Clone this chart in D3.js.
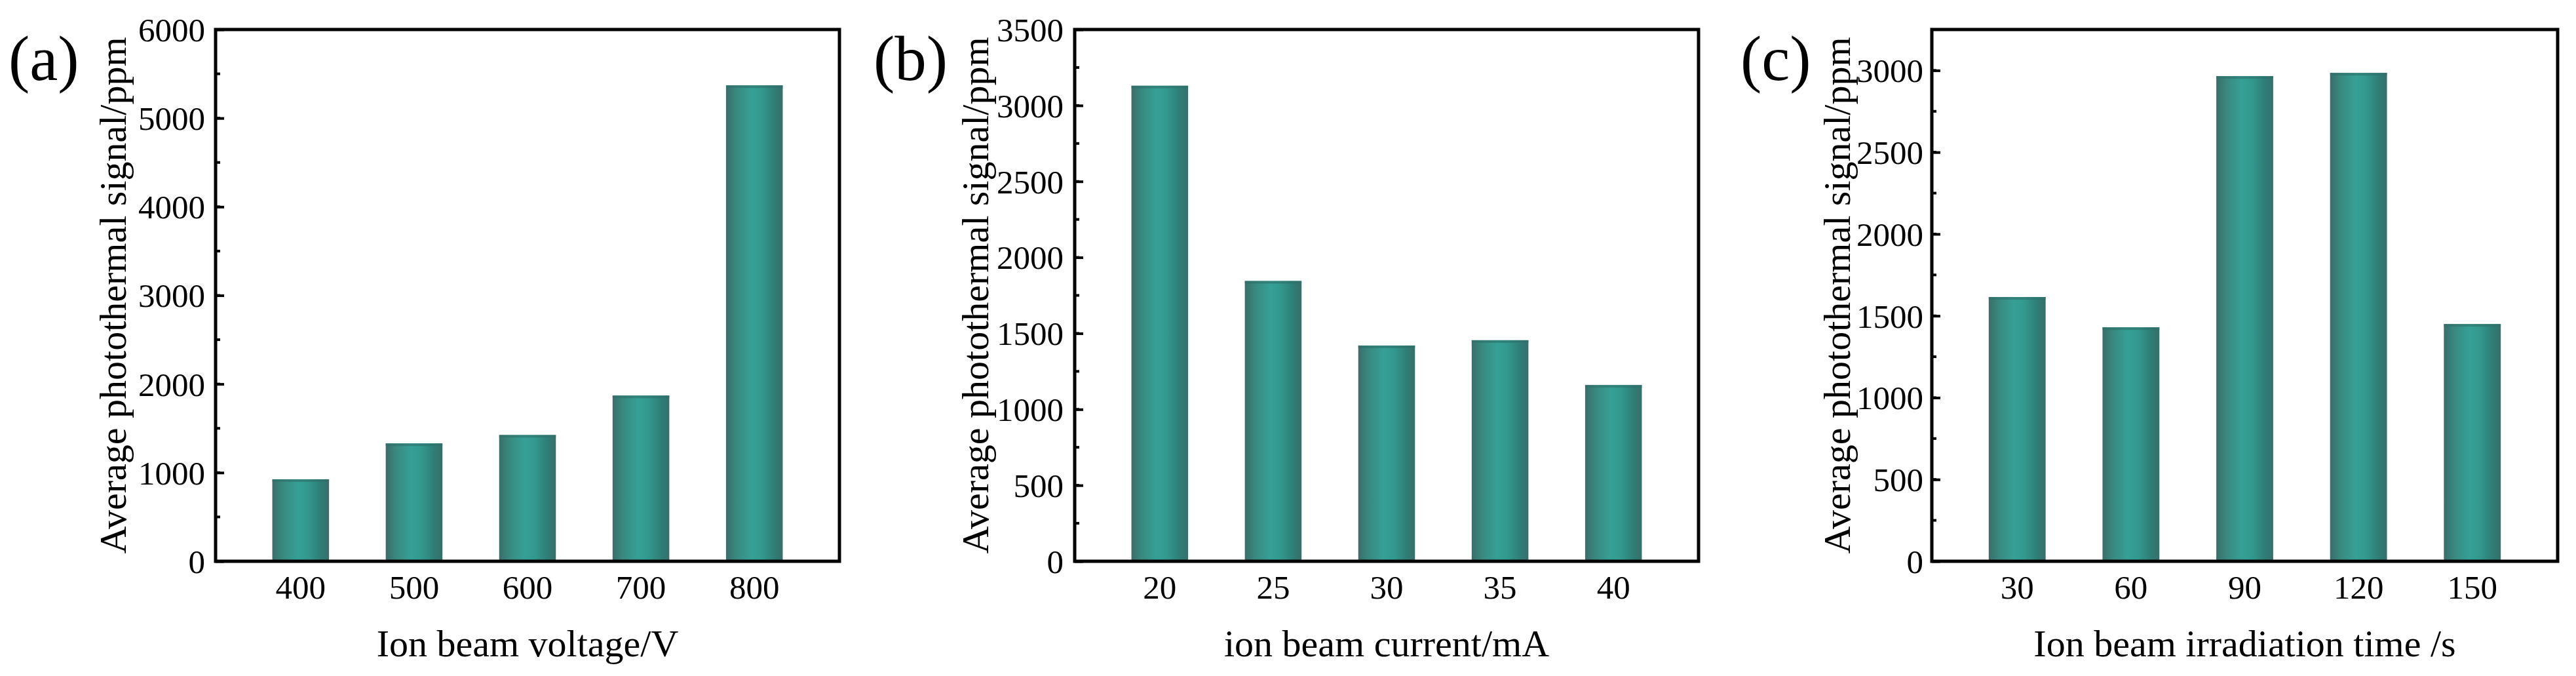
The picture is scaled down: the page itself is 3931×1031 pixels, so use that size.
<!DOCTYPE html>
<html>
<head>
<meta charset="utf-8">
<script src="https://cdn.jsdelivr.net/npm/d3@7"></script>
<style>
  body { margin: 0; background: #ffffff; }
  svg text { font-family: "Liberation Serif", "Times New Roman", serif; fill: #000; }
</style>
</head>
<body>
<div id="chart"></div>
<script>
// Chart data
var voltageCats = ["400", "500", "600", "700", "800"];
var voltageVals = [925, 1330, 1425, 1870, 5370];

var currentCats = ["20", "25", "30", "35", "40"];
var currentVals = [3130, 1845, 1420, 1455, 1160];

var timeCats = ["30", "60", "90", "120", "150"];
var timeVals = [1615, 1430, 2965, 2985, 1450];

// y axis tick labels
var voltageTicks = [0, 1000, 2000, 3000, 4000, 5000, 6000];
var currentTicks = [0, 500, 1000, 1500, 2000, 2500, 3000, 3500];
var timeTicks = [0, 500, 1000, 1500, 2000, 2500, 3000];

// SVG area dimensions
var svgWidth = 3931;
var svgHeight = 1031;

var svg = d3.select("#chart")
  .append("svg")
  .attr("width", svgWidth)
  .attr("height", svgHeight);

// Cylinder-like shading on the bars
var grad = svg.append("defs").append("linearGradient")
  .attr("id", "barGrad")
  .attr("x1", "0%").attr("x2", "100%")
  .attr("y1", "0%").attr("y2", "0%");
[["0%", "#3a6e6a"], ["18%", "#38897f"], ["45%", "#36a096"], ["62%", "#33998f"], ["85%", "#2e7e76"], ["100%", "#3a6d6a"]]
  .forEach(function(s) {
    grad.append("stop").attr("offset", s[0]).attr("stop-color", s[1]);
  });

// plot area top / bottom, shared by the three panels
var plotTop = 45;
var plotBottom = 856;

var serif = "'Liberation Serif', 'Times New Roman', serif";

function drawPanel(opt) {
  var g = svg.append("g");

  var xScale = d3.scaleBand()
    .domain(opt.cats)
    .range([opt.left, opt.right])
    .padding(0.5);

  var yScale = d3.scaleLinear()
    .domain([0, opt.yMax])
    .range([plotBottom, plotTop]);

  // bars
  g.selectAll(".bar")
    .data(opt.vals)
    .enter()
    .append("rect")
    .attr("class", "bar")
    .attr("x", (d, i) => xScale(opt.cats[i]))
    .attr("y", d => yScale(d))
    .attr("width", xScale.bandwidth())
    .attr("height", d => plotBottom - yScale(d))
    .attr("fill", "url(#barGrad)");

  // darker cap at the top of each bar
  g.selectAll(".cap")
    .data(opt.vals)
    .enter()
    .append("rect")
    .attr("class", "cap")
    .attr("x", (d, i) => xScale(opt.cats[i]))
    .attr("y", d => yScale(d))
    .attr("width", xScale.bandwidth())
    .attr("height", 4)
    .attr("fill", "#2f6f6a")
    .attr("opacity", 0.6);

  // minor ticks
  var minor = d3.range(0, opt.yMax + 1, opt.minorStep);
  g.selectAll(".minor")
    .data(minor)
    .enter()
    .append("line")
    .attr("class", "minor")
    .attr("x1", opt.left)
    .attr("x2", opt.left + 7)
    .attr("y1", d => yScale(d))
    .attr("y2", d => yScale(d))
    .attr("stroke", "#000")
    .attr("stroke-width", 4);

  // left axis with inward ticks
  var leftAxis = d3.axisLeft(yScale)
    .tickValues(opt.ticks)
    .tickFormat(d3.format("d"))
    .tickSize(-13);

  var yAxis = g.append("g")
    .attr("transform", `translate(${opt.left}, 0)`)
    .call(leftAxis)
    .attr("font-family", serif);
  yAxis.select(".domain").remove();
  yAxis.selectAll(".tick line").attr("stroke", "#000").attr("stroke-width", 4);
  yAxis.selectAll(".tick text")
    .attr("x", -opt.tickGap)
    .style("font-family", serif)
    .style("font-size", "51px")
    .attr("dy", "0.34em");

  // bottom axis labels, no ticks
  var bottomAxis = d3.axisBottom(xScale).tickSize(0);
  var xAxis = g.append("g")
    .attr("transform", `translate(0, ${plotBottom})`)
    .call(bottomAxis)
    .attr("font-family", serif);
  xAxis.select(".domain").remove();
  xAxis.selectAll(".tick text")
    .style("font-family", serif)
    .style("font-size", "51px")
    .attr("dy", "0")
    .attr("y", 57);

  // frame
  g.append("rect")
    .attr("x", opt.left)
    .attr("y", plotTop)
    .attr("width", opt.right - opt.left)
    .attr("height", plotBottom - plotTop)
    .attr("fill", "none")
    .attr("stroke", "#000")
    .attr("stroke-width", 5);

  // axis titles
  g.append("text")
    .attr("x", (opt.left + opt.right) / 2)
    .attr("y", 1001)
    .style("text-anchor", "middle")
    .style("font-size", "58px")
    .text(opt.xTitle);

  g.append("text")
    .attr("transform", `translate(${opt.left - opt.yTitleOffset}, ${(plotTop + plotBottom) / 2}) rotate(-90)`)
    .style("text-anchor", "middle")
    .style("font-size", "58px")
    .text("Average photothermal signal/ppm");

  // panel letter
  g.append("text")
    .attr("x", opt.letterX)
    .attr("y", 122)
    .style("font-size", "97px")
    .text(opt.letter);
}

drawPanel({
  cats: voltageCats, vals: voltageVals, ticks: voltageTicks,
  yMax: 6000, minorStep: 500, left: 329, right: 1281, tickGap: 16,
  xTitle: "Ion beam voltage/V", yTitleOffset: 137, letter: "(a)", letterX: 13
});

drawPanel({
  cats: currentCats, vals: currentVals, ticks: currentTicks,
  yMax: 3500, minorStep: 250, left: 1640, right: 2592, tickGap: 17,
  xTitle: "ion beam current/mA", yTitleOffset: 132, letter: "(b)", letterX: 1333
});

drawPanel({
  cats: timeCats, vals: timeVals, ticks: timeTicks,
  yMax: 3250, minorStep: 250, left: 2948, right: 3903, tickGap: 13,
  xTitle: "Ion beam irradiation time /s", yTitleOffset: 125, letter: "(c)", letterX: 2656
});
</script>
</body>
</html>
